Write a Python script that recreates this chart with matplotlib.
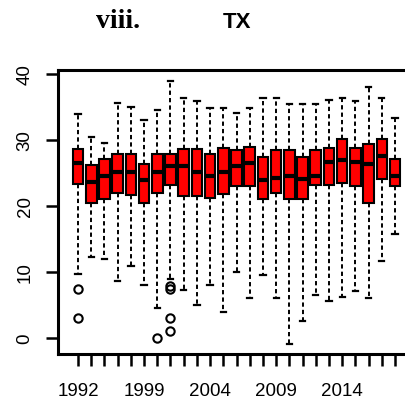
import matplotlib
matplotlib.use("Agg")
import matplotlib.pyplot as plt
from matplotlib.transforms import ScaledTranslation

# Daily maximum temperature (TX) per year, summarised as box stats
years = [1992, 1993, 1995, 1996, 1998] + list(range(1999, 2019))
whis_hi = [34.0, 30.4, 29.5, 35.6, 35.0, 33.0, 34.5, 38.9, 36.4, 35.9,
           34.9, 34.9, 34.1, 34.9, 36.4, 36.4, 35.5, 35.5, 35.5, 36.0,
           36.4, 35.9, 38.0, 36.4, 33.4]
q3 = [28.6, 26.2, 27.1, 27.9, 27.9, 26.4, 27.9, 27.9, 28.6, 28.6,
      27.9, 28.8, 28.5, 28.9, 27.4, 28.5, 28.5, 27.4, 28.5, 28.8,
      30.1, 28.8, 29.4, 30.1, 27.1]
medians = [26.5, 23.6, 24.6, 25.1, 25.1, 24.0, 25.1, 26.1, 26.0, 25.1,
           24.5, 25.1, 26.0, 26.5, 24.0, 24.2, 24.5, 24.1, 24.5, 26.6,
           27.0, 26.7, 26.4, 27.6, 24.5]
q1 = [23.3, 20.5, 21.0, 22.0, 21.7, 20.4, 22.0, 23.2, 21.5, 21.5,
      21.2, 21.8, 23.1, 23.1, 21.0, 22.0, 21.0, 21.0, 23.2, 23.2,
      23.5, 23.1, 20.4, 24.1, 23.1]
whis_lo = [9.7, 12.2, 12.0, 8.6, 10.9, 8.0, 4.5, 8.9, 7.2, 5.0,
           8.0, 4.0, 10.0, 6.1, 9.6, 6.1, -0.9, 2.6, 6.5, 5.6,
           6.2, 7.1, 6.1, 11.6, 15.7]
outliers = {1992: [7.4, 3.1], 2000: [0.0], 2001: [7.9, 7.4, 3.0, 1.1]}

stats = []
for i, yr in enumerate(years):
    stats.append(dict(med=medians[i], q1=q1[i], q3=q3[i],
                      whislo=whis_lo[i], whishi=whis_hi[i],
                      fliers=outliers.get(yr, [])))

fig = plt.figure(figsize=(4.06, 4.02), dpi=100)
ax = fig.add_axes([0.1429, 0.1169, 0.8867, 0.7065])

pos = list(range(1, len(years) + 1))
ax.bxp(stats, positions=pos, widths=0.8, capwidths=0.4, patch_artist=True,
       manage_ticks=False,
       boxprops=dict(facecolor="#ff0000", edgecolor="black", linewidth=1.5),
       medianprops=dict(color="black", linewidth=3.0, solid_capstyle="butt"),
       whiskerprops=dict(color="black", linewidth=1.4, linestyle=(0, (2.2, 1.6))),
       capprops=dict(color="black", linewidth=1.6),
       flierprops=dict(marker="o", markersize=6, markerfacecolor="none",
                       markeredgecolor="black", markeredgewidth=1.5))

ax.set_xlim(-0.515, 26.74)
ax.set_ylim(-2.42, 40.6)

# every year gets a tick, only every fifth is labelled
ax.set_xticks(pos)
ax.set_xticklabels([str(y) if i % 5 == 0 else "" for i, y in enumerate(years)],
                   family="Liberation Sans", fontsize=13.5)
ax.set_yticks([0, 10, 20, 30, 40])
ax.set_yticklabels(["0", "10", "20", "30", "40"], family="Liberation Sans",
                   fontsize=13.5, rotation=90, va="center")
ax.xaxis.set_ticks_position("bottom")
ax.yaxis.set_ticks_position("left")
ax.tick_params(length=8.5, width=1.8, pad=9, direction="out", color="black")

# push the year labels a little further down
shift = ScaledTranslation(0, -3 / 72, fig.dpi_scale_trans)
for lab in ax.get_xticklabels():
    lab.set_transform(lab.get_transform() + shift)

for s in ax.spines.values():
    s.set_linewidth(2.2)

fig.text(118 / 406, 1 - 22 / 402, "viii.", family="Liberation Serif",
         weight="bold", fontsize=20, ha="center", va="center")
fig.text(237 / 406, 1 - 22 / 402, "TX", family="Liberation Sans",
         weight="bold", fontsize=16, ha="center", va="center")

fig.savefig("out.png", dpi=100)
